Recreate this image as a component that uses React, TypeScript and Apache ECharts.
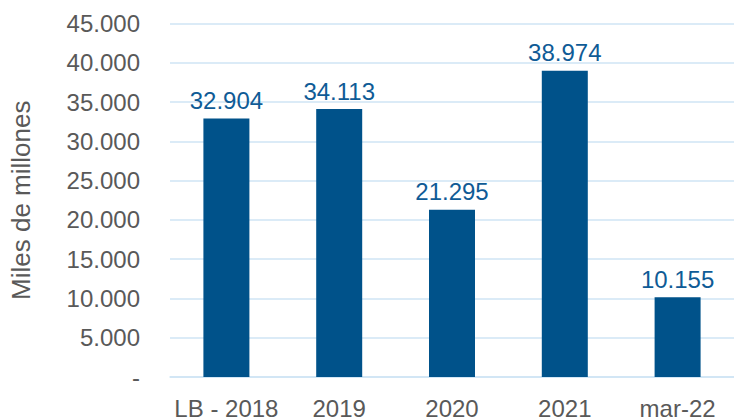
import React, { useEffect, useRef } from "react";
import * as echarts from "echarts";

const categories = ["LB - 2018", "2019", "2020", "2021", "mar-22"];
const values = [32904, 34113, 21295, 38974, 10155];
const yMax = 45000;
const yInterval = 5000;

const fmt = (v: number) =>
  v === 0 ? "-" : Math.round(v).toString().replace(/\B(?=(\d{3})+(?!\d))/g, ".");

export default function App() {
  const ref = useRef<HTMLDivElement>(null);
  useEffect(() => {
    if (!ref.current) return;
    const chart = echarts.init(ref.current, undefined, { renderer: "svg" });
    const font = "'Liberation Sans', Arial, Helvetica, sans-serif";
    chart.setOption({
      animation: false,
      grid: { left: 164, top: 23.5, width: 580, height: 354.5, containLabel: false },
      xAxis: {
        type: "category",
        data: categories,
        axisTick: { show: false },
        axisLine: { show: true, lineStyle: { color: "#CFE5F5", width: 1.5 } },
        axisLabel: { color: "#595959", fontSize: 24, fontFamily: font, margin: 19, interval: 0 },
      },
      yAxis: {
        type: "value",
        min: 0,
        max: yMax,
        interval: yInterval,
        name: "Miles de millones",
        nameLocation: "middle",
        nameGap: 136,
        nameTextStyle: { color: "#595959", fontSize: 26, fontFamily: font },
        axisLine: { show: false },
        axisTick: { show: false },
        splitLine: { lineStyle: { color: "#CFE5F5", width: 1.5 } },
        axisLabel: {
          color: "#595959",
          fontSize: 24,
          fontFamily: font,
          margin: 30,
          formatter: (v: number) => fmt(v),
        },
      },
      series: [
        {
          type: "bar",
          data: values,
          barWidth: 46,
          itemStyle: { color: "#00528A" },
          label: {
            show: true,
            position: "top",
            distance: 6,
            color: "#0F5B96",
            fontSize: 24,
            fontFamily: font,
            formatter: (p: any) => fmt(p.value),
          },
        },
      ],
    });
    return () => chart.dispose();
  }, []);
  return <div ref={ref} style={{ width: 734, height: 420, position: "absolute", left: 0, top: 0 }} />;
}
